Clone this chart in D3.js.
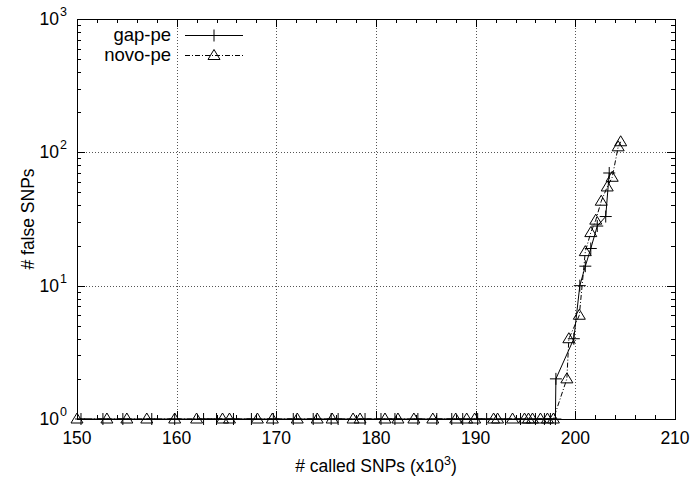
<!DOCTYPE html>
<html>
<head>
<meta charset="utf-8">
<script src="https://cdn.jsdelivr.net/npm/d3@7"></script>
<style>
  body { margin: 0; background: #fff; }
  text { font-family: "Liberation Sans", Arial, sans-serif; fill: #000; }
</style>
</head>
<body>
<div id="chart"></div>
<script>
// x in thousands of called SNPs, y = number of false SNPs
var gapX = [150.4, 152.6, 154.6, 157.5, 159.8, 162.7, 164.0, 165.7, 167.5, 169.7, 171.7, 173.7,
  175.5, 176.2, 178.9, 180.5, 181.9, 184.2, 186.1, 187.6, 188.7, 190.2, 191.1, 193.0, 194.5,
  196.0, 196.9, 197.5, 198.0, 198.05, 199.85, 200.45, 201.0, 201.55, 202.2, 203.05, 203.4];
var gapY = [1, 1, 1, 1, 1, 1, 1, 1, 1, 1, 1, 1, 1, 1, 1, 1, 1, 1, 1, 1, 1, 1, 1, 1, 1,
  1, 1, 1, 1, 2, 4, 10, 14, 19, 28, 33, 70];

var novoX = [150.0, 153.0, 155.0, 157.0, 159.8, 162.0, 164.6, 165.3, 168.1, 169.6, 172.1, 174.1,
  175.6, 177.7, 178.4, 180.9, 182.2, 183.8, 185.7, 188.0, 189.1, 189.9, 191.8, 192.2, 193.7,
  194.9, 195.3, 195.7, 196.5, 197.2, 197.8, 199.15, 199.35, 200.4, 201.0, 201.55, 202.05,
  202.6, 203.2, 203.7, 204.3, 204.55];
var novoY = [1, 1, 1, 1, 1, 1, 1, 1, 1, 1, 1, 1, 1, 1, 1, 1, 1, 1, 1, 1, 1, 1, 1, 1, 1,
  1, 1, 1, 1, 1, 1, 2, 4, 6, 18, 25, 31, 43, 55, 65, 110, 120];

var xTicks = [150, 160, 170, 180, 190, 200, 210];
var yTicks = [1, 10, 100, 1000];
var yExp = ["0", "1", "2", "3"];
var seriesNames = ["gap-pe", "novo-pe"];

var W = 697, H = 484;
var L = 77, R = 675, T = 19, B = 419;

var svg = d3.select("#chart").append("svg")
  .attr("width", W).attr("height", H);

var x = d3.scaleLinear().domain([150, 210]).range([L, R]);
var y = d3.scaleLog().domain([1, 1000]).range([B, T]);

// grid
var grid = svg.append("g").attr("stroke", "#555").attr("stroke-width", 1)
  .attr("stroke-dasharray", "1,2");
grid.selectAll(".gx").data(xTicks.slice(1, -1)).enter().append("line")
  .attr("x1", d => Math.round(x(d)) + 0.5).attr("x2", d => Math.round(x(d)) + 0.5)
  .attr("y1", T).attr("y2", B);
grid.selectAll(".gy").data(yTicks.slice(1, -1)).enter().append("line")
  .attr("y1", d => Math.round(y(d)) + 0.5).attr("y2", d => Math.round(y(d)) + 0.5)
  .attr("x1", L).attr("x2", R);

// axes (ticks inward on all four sides)
var minorX = d3.range(152, 210, 2).filter(v => v % 10 !== 0);
var minorY = [];
[1, 10, 100].forEach(function (d) {
  for (var k = 2; k < 10; k++) minorY.push(d * k);
});

var ax = svg.append("g").attr("stroke", "#000").attr("stroke-width", 1);
xTicks.forEach(function (v) {
  var px = Math.round(x(v)) + 0.5;
  ax.append("line").attr("x1", px).attr("x2", px).attr("y1", B).attr("y2", B - 8);
  ax.append("line").attr("x1", px).attr("x2", px).attr("y1", T).attr("y2", T + 8);
});
minorX.forEach(function (v) {
  var px = Math.round(x(v)) + 0.5;
  ax.append("line").attr("x1", px).attr("x2", px).attr("y1", B).attr("y2", B - 4);
  ax.append("line").attr("x1", px).attr("x2", px).attr("y1", T).attr("y2", T + 4);
});
yTicks.forEach(function (v) {
  var py = Math.round(y(v)) + 0.5;
  ax.append("line").attr("x1", L).attr("x2", L + 8).attr("y1", py).attr("y2", py);
  ax.append("line").attr("x1", R).attr("x2", R - 8).attr("y1", py).attr("y2", py);
});
minorY.forEach(function (v) {
  var py = Math.round(y(v)) + 0.5;
  ax.append("line").attr("x1", L).attr("x2", L + 4).attr("y1", py).attr("y2", py);
  ax.append("line").attr("x1", R).attr("x2", R - 4).attr("y1", py).attr("y2", py);
});

svg.append("rect").attr("x", L + 0.5).attr("y", T + 0.5)
  .attr("width", R - L).attr("height", B - T)
  .attr("fill", "none").attr("stroke", "#000").attr("stroke-width", 1);

// tick labels
svg.selectAll(".xl").data(xTicks).enter().append("text")
  .attr("x", d => x(d)).attr("y", 444)
  .attr("text-anchor", "middle").style("font-size", "17.5px")
  .text(d => d);

yTicks.forEach(function (v, i) {
  svg.append("text").attr("x", 59).attr("y", y(v) + 6)
    .attr("text-anchor", "end").style("font-size", "17.5px").text("10");
  svg.append("text").attr("x", 60).attr("y", y(v) - 3)
    .style("font-size", "12.5px").text(yExp[i]);
});

// axis titles
var xt = svg.append("text").attr("x", 376).attr("y", 472)
  .attr("text-anchor", "middle").style("font-size", "17.5px");
xt.append("tspan").text("# called SNPs (x10");
xt.append("tspan").attr("dy", -7).style("font-size", "12.5px").text("3");
xt.append("tspan").attr("dy", 7).text(")");

svg.append("text")
  .attr("transform", "translate(34," + (T + B) / 2 + ")rotate(-90)")
  .attr("text-anchor", "middle").style("font-size", "17.5px")
  .text("# false SNPs");

// series
var line = d3.line().x(d => x(d[0])).y(d => y(d[1]));
var gapData = d3.zip(gapX, gapY);
var novoData = d3.zip(novoX, novoY);

svg.append("path").datum(gapData).attr("d", line)
  .attr("fill", "none").attr("stroke", "#000").attr("stroke-width", 1);
svg.append("path").datum(novoData).attr("d", line)
  .attr("fill", "none").attr("stroke", "#000").attr("stroke-width", 1)
  .attr("stroke-dasharray", "5,2,1,2");

function plus(g, cx, cy) {
  g.append("path")
    .attr("d", "M" + (cx - 6) + "," + cy + "H" + (cx + 6) + "M" + cx + "," + (cy - 6) + "V" + (cy + 6))
    .attr("stroke", "#000").attr("stroke-width", 1).attr("fill", "none");
}
function tri(g, cx, cy) {
  g.append("path")
    .attr("d", "M" + cx + "," + (cy - 6) + "L" + (cx + 6) + "," + (cy + 4) + "L" + (cx - 6) + "," + (cy + 4) + "Z")
    .attr("stroke", "#000").attr("stroke-width", 1).attr("fill", "none");
}

var mk = svg.append("g");
gapData.forEach(d => plus(mk, x(d[0]), y(d[1])));
novoData.forEach(d => tri(mk, x(d[0]), y(d[1])));

// legend
var lg = svg.append("g");
lg.append("text").attr("x", 171).attr("y", 41).attr("text-anchor", "end")
  .style("font-size", "18.5px").text(seriesNames[0]);
lg.append("text").attr("x", 171).attr("y", 61).attr("text-anchor", "end")
  .style("font-size", "18.5px").text(seriesNames[1]);
lg.append("line").attr("x1", 185).attr("x2", 243).attr("y1", 35.5).attr("y2", 35.5)
  .attr("stroke", "#000");
plus(lg, 214, 35.5);
lg.append("line").attr("x1", 185).attr("x2", 243).attr("y1", 55.5).attr("y2", 55.5)
  .attr("stroke", "#000").attr("stroke-dasharray", "5,2,1,2");
tri(lg, 214, 55.5);
</script>
</body>
</html>
